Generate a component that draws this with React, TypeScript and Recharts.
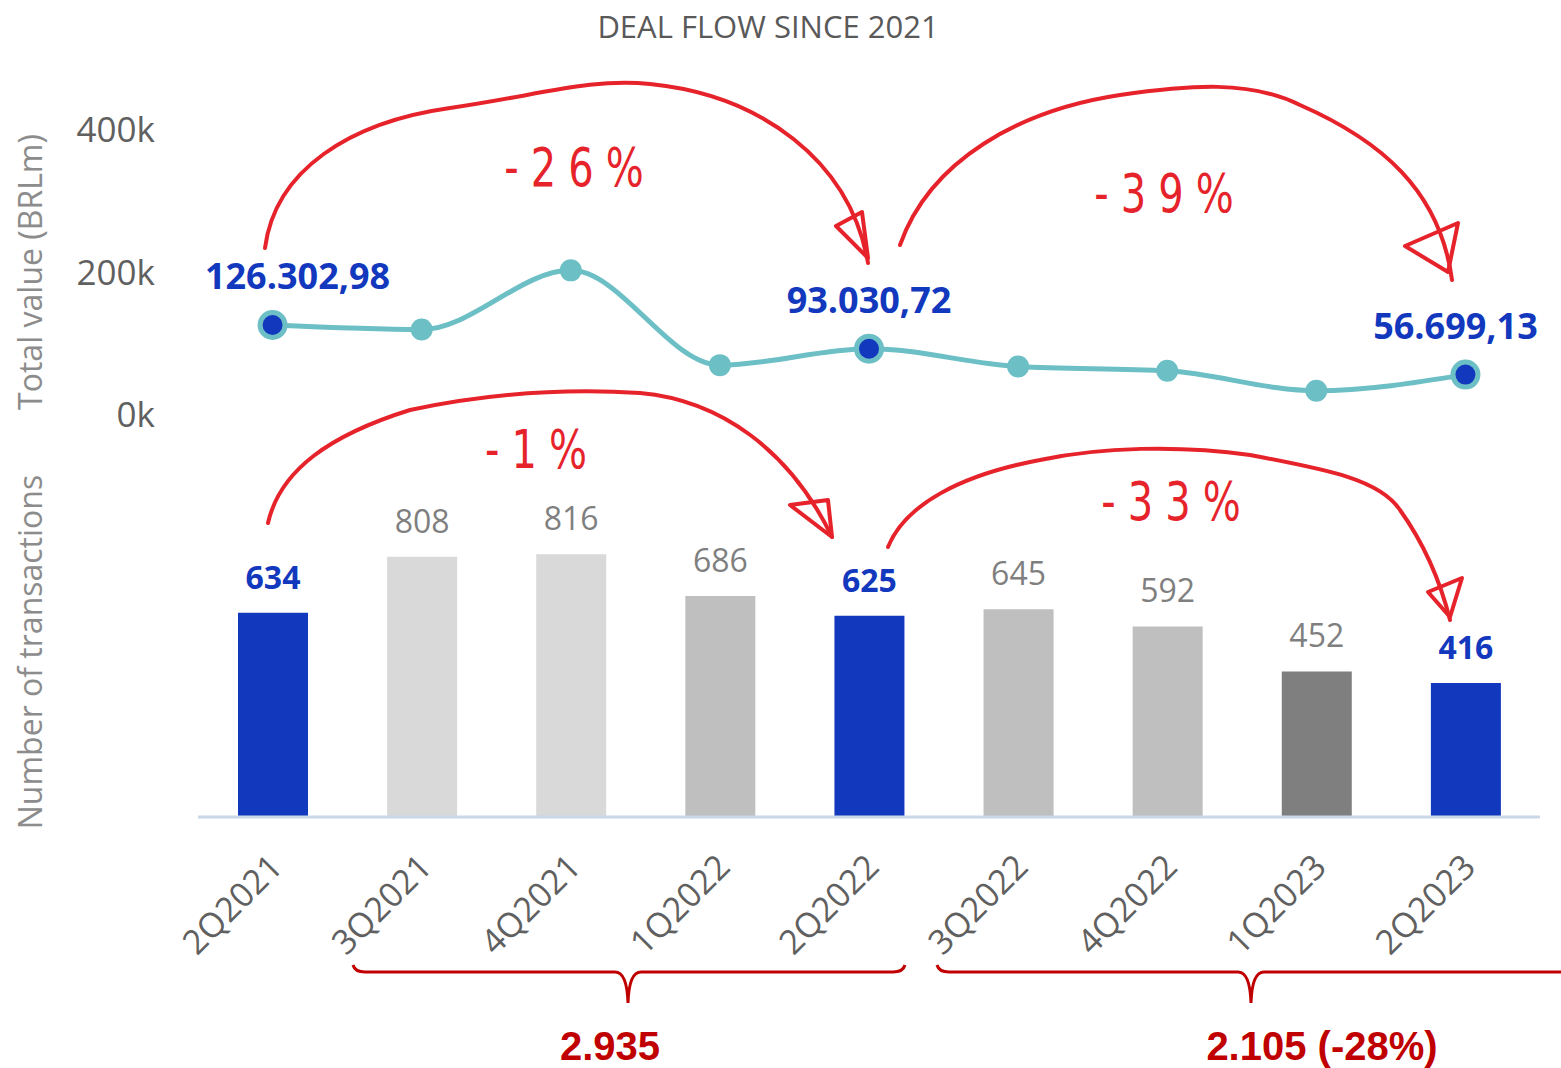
import React from 'react';
import { ComposedChart, Line, Bar, XAxis, YAxis, Cell, LabelList } from 'recharts';

// ---- data ----
const quarters = ['2Q2021', '3Q2021', '4Q2021', '1Q2022', '2Q2022', '3Q2022', '4Q2022', '1Q2023', '2Q2023'];
const totalValue = [126302.98, 120000, 203000, 70000, 93030.72, 68000, 62000, 34000, 56699.13];
const transactions = [634, 808, 816, 686, 625, 645, 592, 452, 416];
const valueTicks = [0, 200000, 400000];
const highlighted = [true, false, false, false, true, false, false, false, true];

// ---- styles ----
const barColors = ['#1238bd', '#d9d9d9', '#d9d9d9', '#bfbfbf', '#1238bd', '#bfbfbf', '#bfbfbf', '#7f7f7f', '#1238bd'];
const BLUE = '#1238bd';
const TEAL = '#6dbfc6';
const RED = '#e6232b';
const DARKRED = '#c00000';
const FONT = "'Open Sans', 'Noto Sans', sans-serif";

const data = quarters.map((q, i) => ({ q, value: totalValue[i], count: transactions[i] }));

const fmtBR = (v: number) => {
  const [int, dec] = v.toFixed(2).split('.');
  return int.replace(/\B(?=(\d{3})+(?!\d))/g, '.') + ',' + dec;
};

const W = 1561;
const PLOT_LEFT = 198;
const PLOT_RIGHT = 1540;

const LineDot = (props: any) => {
  const { cx, cy, index } = props;
  if (cx == null || cy == null) return null;
  if (highlighted[index]) {
    return (
      <g key={'d' + index}>
        <circle cx={cx} cy={cy} r={15} fill={TEAL} />
        <circle cx={cx} cy={cy} r={10} fill={BLUE} />
      </g>
    );
  }
  return <circle key={'d' + index} cx={cx} cy={cy} r={11} fill={TEAL} />;
};

const LineLabel = (props: any) => {
  const { x, y, index, value } = props;
  if (!highlighted[index]) return null;
  let dx = 0;
  if (index === 0) dx = 25;
  if (index === quarters.length - 1) dx = -10;
  return (
    <text x={x + dx} y={y - 36} textAnchor="middle" fill={BLUE} fontSize={36} fontWeight={700} fontFamily={FONT}>
      {fmtBR(value)}
    </text>
  );
};

const BarLabel = (props: any) => {
  const { x, y, width, value, index } = props;
  const hl = highlighted[index];
  return (
    <text
      x={x + width / 2}
      y={y - 24}
      textAnchor="middle"
      fill={hl ? BLUE : '#7f7f7f'}
      fontSize={32}
      fontWeight={hl ? 700 : 400}
      fontFamily={FONT}
    >
      {value}
    </text>
  );
};

const XTick = (props: any) => {
  const { x, y, payload } = props;
  const tx = x + 12;
  const ty = y + 52;
  return (
    <text
      x={tx}
      y={ty}
      transform={`rotate(-45, ${tx}, ${ty})`}
      textAnchor="end"
      fill="#606060"
      fontSize={34}
      fontFamily={FONT}
    >
      {payload.value}
    </text>
  );
};

const HandText = ({ x, y, children }: any) => (
  <g transform={`translate(${x},${y}) scale(1,1.35)`}>
    <text textAnchor="middle" fill={RED} fontSize={40} fontFamily="'DejaVu Sans', sans-serif" letterSpacing={12}>
      {children}
    </text>
  </g>
);

export default function App() {
  return (
    <div style={{ position: 'absolute', left: 0, top: 0, width: W, height: 1068, background: '#fff', fontFamily: FONT }}>
      <div style={{ position: 'absolute', left: 0, top: 0 }}>
        <ComposedChart width={W} height={440} data={data} margin={{ top: 130, right: W - PLOT_RIGHT, bottom: 25, left: 0 }}>
          <XAxis dataKey="q" hide scale="band" />
          <YAxis
            width={PLOT_LEFT}
            domain={[0, 400000]}
            ticks={valueTicks}
            tickFormatter={(v: number) => `${v / 1000}k`}
            axisLine={false}
            tickLine={false}
            tickSize={0}
            tickMargin={43}
            tick={{ fill: '#606060', fontSize: 35, fontFamily: FONT }}
          />
          <Line
            dataKey="value"
            type="monotone"
            stroke={TEAL}
            strokeWidth={5}
            dot={<LineDot />}
            activeDot={false}
            isAnimationActive={false}
            label={<LineLabel />}
          />
        </ComposedChart>
      </div>
      <div style={{ position: 'absolute', left: 0, top: 440 }}>
        <ComposedChart width={W} height={560} data={data} margin={{ top: 55, right: W - PLOT_RIGHT, bottom: 0, left: PLOT_LEFT }}>
          <XAxis
            dataKey="q"
            height={183}
            interval={0}
            axisLine={{ stroke: '#c9d7e6', strokeWidth: 3 }}
            tickLine={false}
            tickSize={0}
            tickMargin={0}
            tick={<XTick />}
          />
          <YAxis hide domain={[0, 1000]} />
          <Bar dataKey="count" barSize={70} isAnimationActive={false}>
            {data.map((d, i) => (
              <Cell key={d.q} fill={barColors[i]} />
            ))}
            <LabelList dataKey="count" content={<BarLabel />} />
          </Bar>
        </ComposedChart>
      </div>
      <svg width={W} height={1068} style={{ position: 'absolute', left: 0, top: 0, pointerEvents: 'none' }}>
        <text x={768} y={38} textAnchor="middle" fill="#595959" fontSize={31} fontFamily={FONT}>
          DEAL FLOW SINCE 2021
        </text>
        <text transform="translate(42,272) rotate(-90)" textAnchor="middle" fill="#8c8c8c" fontSize={32} fontFamily={FONT}>
          Total value (BRLm)
        </text>
        <text transform="translate(42,652) rotate(-90)" textAnchor="middle" fill="#8c8c8c" fontSize={32} fontFamily={FONT}>
          Number of transactions
        </text>

        {/* hand-drawn annotations */}
        <g fill="none" stroke={RED} strokeWidth={4} strokeLinecap="round" strokeLinejoin="round">
          <path d="M265,248 C275,170 350,122 450,108 C540,95 590,78 650,84 C760,95 850,160 868,263" />
          <path d="M836,226 L862,212 L868,258 Z" />
          <path d="M900,245 C930,160 1020,110 1120,95 C1190,85 1250,80 1300,105 C1380,140 1440,190 1452,280" />
          <path d="M1405,246 L1458,223 L1448,272 Z" />
          <path d="M268,523 C280,470 330,435 410,410 C480,395 560,388 640,393 C720,400 790,450 832,537" />
          <path d="M790,505 L828,500 L832,537 Z" />
          <path d="M888,547 C905,505 960,475 1040,460 C1100,447 1180,445 1250,455 C1330,470 1380,480 1400,510 C1425,545 1440,580 1450,620" />
          <path d="M1428,592 L1462,578 L1450,617 Z" />
        </g>
        <HandText x={580} y={186}>-26%</HandText>
        <HandText x={1170} y={212}>-39%</HandText>
        <HandText x={542} y={468}>-1%</HandText>
        <HandText x={1177} y={520}>-33%</HandText>

        {/* braces */}
        <g fill="none" stroke={DARKRED} strokeWidth={3}>
          <path d="M353,965 Q355,972 365,972 L615,972 Q627,972 628,1003 Q629,972 641,972 L893,972 Q903,972 905,965" />
          <path d="M937,965 Q939,972 949,972 L1238,972 Q1250,972 1251,1003 Q1252,972 1264,972 L1561,972" />
        </g>
        <text x={610} y={1060} textAnchor="middle" fill={DARKRED} fontSize={40} fontWeight={700} fontFamily="'Liberation Sans', Arial, sans-serif">
          2.935
        </text>
        <text x={1322} y={1060} textAnchor="middle" fill={DARKRED} fontSize={40} fontWeight={700} fontFamily="'Liberation Sans', Arial, sans-serif">
          2.105 (-28%)
        </text>
      </svg>
    </div>
  );
}
